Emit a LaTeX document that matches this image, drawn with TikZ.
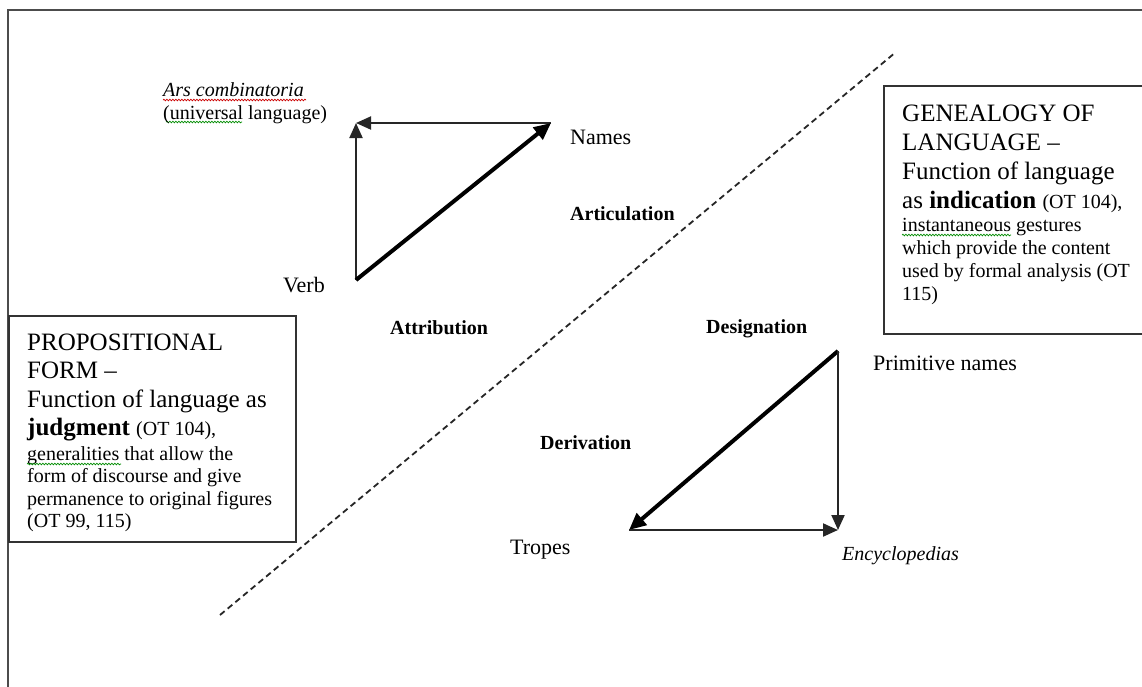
\documentclass[tikz,border=0pt]{standalone}
\usepackage{fontspec}
\setmainfont{Liberation Serif}
\usetikzlibrary{arrows.meta,decorations.pathmorphing}
\begin{document}
\begin{tikzpicture}[x=1pt,y=-1pt,
  lbl/.style={anchor=base west, inner sep=0pt, font=\fontsize{22}{26}\selectfont},
  blbl/.style={anchor=base west, inner sep=0pt, font=\fontsize{20}{24}\selectfont\bfseries},
  ilbl/.style={anchor=base west, inner sep=0pt, font=\fontsize{20}{24}\selectfont\itshape},
  slbl/.style={anchor=base west, inner sep=0pt, font=\fontsize{20}{24}\selectfont},
  txt/.style={anchor=base west, inner sep=0pt},
  thinarr/.style={draw=black!85, line width=2pt, -{Triangle[length=15pt,width=13pt]}},
  thickarr/.style={line width=4pt, -{Triangle[length=17pt,width=15pt]}},
  frameline/.style={draw=black!70, line width=2.4pt},
  boxframe/.style={draw=black!80, line width=2pt, inner sep=0pt, anchor=north west},
  divider/.style={draw=black!85, line width=1.8pt, dash pattern=on 6pt off 4pt},
  squig/.style={decorate, decoration={snake, amplitude=0.8pt, segment length=3pt}, line width=0.7pt},
]
\useasboundingbox (0,0) rectangle (1142,686);
\clip (0,0) rectangle (1142,686);
\fill[white] (0,0) rectangle (1142,686);

% outer frame (cropped)
\draw[frameline] (8,700) -- (8,10) -- (1160,10);

% dashed divider
\coordinate (dA) at (220,615);
\coordinate (dB) at (896,52);
\draw[divider] (dA) -- (dB);

% boxes
\node[boxframe, minimum width=287pt, minimum height=226pt] (lbox) at (8,315) {};
\node[boxframe, minimum width=290pt, minimum height=248pt] (rbox) at (883,85) {};

\node[txt] (ltext) at (27,350) {\parbox[t]{262pt}{\raggedright\parindent=0pt
\fontsize{25}{28.5}\selectfont PROPOSITIONAL\par
FORM –\par
Function of language as\par
\textbf{judgment} {\fontsize{20}{22}\selectfont (OT 104),}\par
\fontsize{20}{25}\selectfont generalities that allow the\par
\fontsize{20}{22.3}\selectfont form of discourse and give\par
permanence to original figures\par
(OT 99, 115)\par}};

\node[txt] (rtext) at (902,121) {\parbox[t]{245pt}{\raggedright\parindent=0pt
\fontsize{25}{29}\selectfont GENEALOGY OF\par
LANGUAGE –\par
Function of language\par
as \textbf{indication} {\fontsize{20}{22}\selectfont (OT 104),}\par
\fontsize{20}{23}\selectfont instantaneous gestures\par
which provide the content\par
used by formal analysis (OT\par
115)\par}};

% spell-check squiggles
\draw[squig, red!80!black] (163,100) -- (306,100);
\draw[squig, green!55!black] (166,122) -- (242,122);
\draw[squig, green!55!black] (902,235) -- (1011,235);
\draw[squig, green!55!black] (27,464) -- (121,464);

% upper triangle
\coordinate (ars) at (356,123);
\coordinate (nam) at (551,123);
\coordinate (vrb) at (356,280);
\draw[thinarr] (vrb) -- (ars);
\draw[thinarr] (nam) -- (ars);
\draw[thickarr] (vrb) -- (nam);

% lower triangle
\coordinate (prim) at (838,351);
\coordinate (trp) at (629,530);
\coordinate (enc) at (838,530);
\draw[thickarr] (prim) -- (trp);
\draw[thinarr] (prim) -- (enc);
\draw[thinarr] (trp) -- (enc);

% labels
\node[ilbl] (tars) at (163,96) {Ars combinatoria};
\node[slbl] (tuni) at (163,119) {(universal language)};
\node[lbl] (tnam) at (570,144) {Names};
\node[blbl] (tart) at (570,220) {Articulation};
\node[lbl] (tvrb) at (283,292) {Verb};
\node[blbl] (tatt) at (390,334) {Attribution};
\node[blbl] (tdes) at (706,333) {Designation};
\node[lbl] (tprim) at (873,370) {Primitive names};
\node[blbl] (tder) at (540,449) {Derivation};
\node[lbl] (ttrp) at (510,554) {Tropes};
\node[ilbl] (tenc) at (842,560) {Encyclopedias};
\end{tikzpicture}
\end{document}
